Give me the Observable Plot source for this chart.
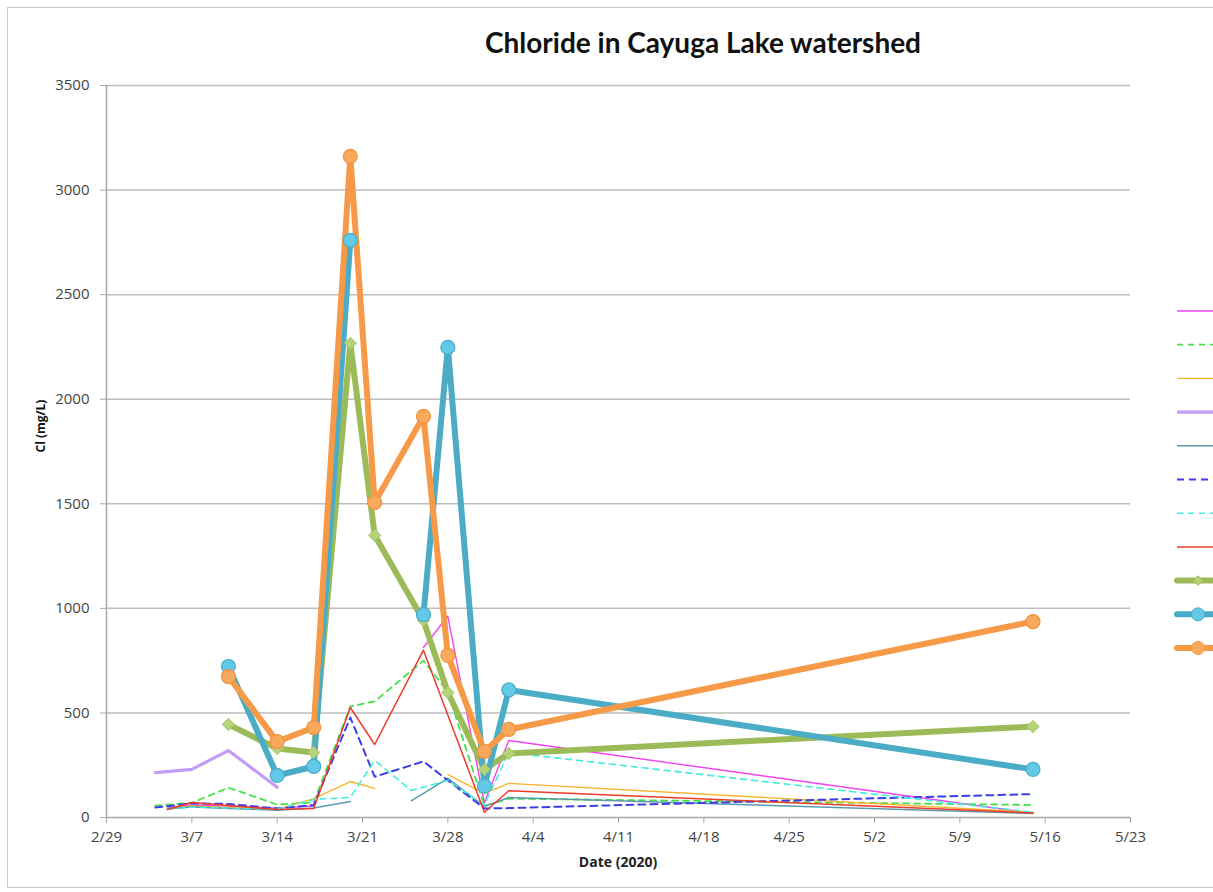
<!DOCTYPE html>
<html>
<head>
<meta charset="utf-8">
<script src="https://cdn.jsdelivr.net/npm/d3@7"></script>
<script src="https://cdn.jsdelivr.net/npm/@observablehq/plot@0.6"></script>
<style>
  html, body { margin: 0; padding: 0; background: #fff; }
  #wrap { position: relative; width: 1213px; height: 892px; overflow: hidden; background: #fff; }
  #frame { position: absolute; left: 7px; top: 7px; width: 1230px; height: 881px; border: 1.5px solid #c9c9c9; box-sizing: border-box; }
  #title { position: absolute; left: 0; top: 25px; width: 1406px; text-align: center; font: bold 28px Lato, "Open Sans", sans-serif; color: #111; }
  #ylab { position: absolute; left: 40px; top: 426px; transform: translate(-50%, -50%) rotate(-90deg); font: bold 12px "Open Sans", sans-serif; color: #111; white-space: nowrap; }
  #xlab { position: absolute; left: 618px; top: 852px; transform: translateX(-50%); font: bold 14px "Open Sans", sans-serif; color: #222; white-space: nowrap; }
  #chart { position: absolute; left: 0; top: 0; }
  #legend { position: absolute; left: 0; top: 0; }
</style>
</head>
<body>
<div id="wrap">
  <div id="frame"></div>
  <div id="chart"></div>
  <div id="title">Chloride in Cayuga Lake watershed</div>
  <div id="ylab">Cl (mg/L)</div>
  <div id="xlab">Date (2020)</div>
  <svg id="legend" width="1213" height="892"></svg>
</div>
<script>
// ---- Data; null = gap in the series ----
const xTickLabels = ["2/29","3/7","3/14","3/21","3/28","4/4","4/11","4/18","4/25","5/2","5/9","5/16","5/23"];
const yTicks = [0, 500, 1000, 1500, 2000, 2500, 3000, 3500];

const magentaDates = ["2020-03-05","2020-03-07","2020-03-10","2020-03-14","2020-03-17","2020-03-20","2020-03-26","2020-03-28","2020-03-31","2020-04-02","2020-05-15"];
const magentaVals  = [45, 60, 55, 45, 55, null, 813, 962, 70, 368, 20];

const greenDashDates = ["2020-03-04","2020-03-07","2020-03-10","2020-03-14","2020-03-17","2020-03-20","2020-03-22","2020-03-26","2020-03-28","2020-03-31","2020-04-02","2020-05-15"];
const greenDashVals  = [57, 70, 143, 62, 72, 531, 555, 750, 600, 55, 90, 60];

const orangeThinDates = ["2020-03-05","2020-03-07","2020-03-14","2020-03-17","2020-03-20","2020-03-22","2020-03-25","2020-03-28","2020-03-31","2020-04-02","2020-05-15"];
const orangeThinVals  = [40, 55, 40, 90, 172, 139, null, 205, 115, 163, 25];

const lavenderDates = ["2020-03-04","2020-03-07","2020-03-10","2020-03-14"];
const lavenderVals  = [215, 230, 320, 145];

const tealDates = ["2020-03-05","2020-03-07","2020-03-14","2020-03-17","2020-03-20","2020-03-22","2020-03-25","2020-03-28","2020-03-31","2020-04-02","2020-05-15"];
const tealVals  = [43, 50, 35, 45, 77, null, 80, 187, 53, 96, 19];

const blueDashDates = ["2020-03-04","2020-03-07","2020-03-10","2020-03-14","2020-03-17","2020-03-20","2020-03-22","2020-03-26","2020-03-31","2020-04-02","2020-05-15"];
const blueDashVals  = [48, 67, 65, 43, 60, 478, 195, 268, 43, 45, 112];

const cyanDashDates = ["2020-03-05","2020-03-07","2020-03-14","2020-03-17","2020-03-20","2020-03-22","2020-03-25","2020-03-28","2020-03-31","2020-04-02","2020-05-15"];
const cyanDashVals  = [40, 50, 40, 86, 96, 273, 129, 177, 60, 311, 25];

const redDates = ["2020-03-05","2020-03-07","2020-03-14","2020-03-17","2020-03-20","2020-03-22","2020-03-26","2020-03-31","2020-04-02","2020-05-15"];
const redVals  = [38, 72, 38, 43, 526, 349, 800, 25, 128, 22];

const greenDates = ["2020-03-10","2020-03-14","2020-03-17","2020-03-20","2020-03-22","2020-03-26","2020-03-28","2020-03-31","2020-04-02","2020-05-15"];
const greenVals  = [445, 330, 311, 2267, 1349, 942, 598, 230, 306, 435];

const blueDates = ["2020-03-10","2020-03-14","2020-03-17","2020-03-20","2020-03-22","2020-03-26","2020-03-28","2020-03-31","2020-04-02","2020-05-15"];
const blueVals  = [722, 201, 244, 2759, null, 970, 2248, 150, 610, 230];

const orangeDates = ["2020-03-10","2020-03-14","2020-03-17","2020-03-20","2020-03-22","2020-03-26","2020-03-28","2020-03-31","2020-04-02","2020-05-15"];
const orangeVals  = [674, 363, 430, 3161, 1506, 1918, 775, 316, 421, 937];

// ---- Build tables ----
const parse = d3.utcParse("%Y-%m-%d");
function rows(dates, vals) { return dates.map((d, i) => ({date: parse(d), v: vals[i]})); }

const thinStyles = [
  {stroke: "#f044f0", w: 1.4, dash: null},
  {stroke: "#48e04a", w: 1.8, dash: "6,5"},
  {stroke: "#fbb42a", w: 1.4, dash: null},
  {stroke: "#c29cf7", w: 3.2, dash: null},
  {stroke: "#5b9aae", w: 1.5, dash: null},
  {stroke: "#3d3de8", w: 2, dash: "7,5"},
  {stroke: "#44ece0", w: 1.6, dash: "6,5"},
  {stroke: "#ee3b2b", w: 1.5, dash: null}
];
const thinData = [
  rows(magentaDates, magentaVals),
  rows(greenDashDates, greenDashVals),
  rows(orangeThinDates, orangeThinVals),
  rows(lavenderDates, lavenderVals),
  rows(tealDates, tealVals),
  rows(blueDashDates, blueDashVals),
  rows(cyanDashDates, cyanDashVals),
  rows(redDates, redVals)
];
const green = rows(greenDates, greenVals);
const blue = rows(blueDates, blueVals);
const orange = rows(orangeDates, orangeVals);

const x0 = parse("2020-02-29"), x1 = parse("2020-05-23");
const xTicks = d3.range(0, 85, 7).map(k => d3.utcDay.offset(x0, k));

const marks = [
  Plot.ruleY(yTicks.filter(d => d > 0), {stroke: "#bdbdbd", strokeWidth: 1.5}),
  Plot.axisY({ticks: yTicks, tickFormat: d => String(d), tickSize: 6, tickPadding: 11, stroke: "#a8a8a8", fontSize: 15, fill: "#444", label: null}),
  Plot.axisX({ticks: xTicks, tickFormat: (d, i) => xTickLabels[i], tickSize: 6, tickPadding: 8, stroke: "#a8a8a8", fontSize: 15, fill: "#444", label: null}),
  Plot.ruleX([x0], {stroke: "#a8a8a8", strokeWidth: 1.5}),
  Plot.ruleY([0], {stroke: "#a8a8a8", strokeWidth: 1.5})
];
thinData.forEach((data, i) => {
  const s = thinStyles[i];
  marks.push(Plot.line(data, {x: "date", y: "v", stroke: s.stroke, strokeWidth: s.w, strokeDasharray: s.dash}));
});
marks.push(
  Plot.line(green, {x: "date", y: "v", stroke: "#9bbb59", strokeWidth: 6, strokeLinejoin: "round"}),
  Plot.line(blue, {x: "date", y: "v", stroke: "#4aacc6", strokeWidth: 6, strokeLinejoin: "round"}),
  Plot.line(orange, {x: "date", y: "v", stroke: "#f79a48", strokeWidth: 6, strokeLinejoin: "round"}),
  Plot.dot(green, {x: "date", y: "v", symbol: "diamond2", r: 5.5, fill: "#b7d37a", stroke: "#a3c263", strokeWidth: 1}),
  Plot.dot(blue, {x: "date", y: "v", r: 7, fill: "#62c9e8", stroke: "#4aacc6", strokeWidth: 1.2}),
  Plot.dot(orange, {x: "date", y: "v", r: 7, fill: "#f9a95c", stroke: "#f3913c", strokeWidth: 1.2})
);

const chart = Plot.plot({
  width: 1213,
  height: 892,
  marginLeft: 106,
  marginRight: 83,
  marginTop: 85,
  marginBottom: 75,
  style: {background: "transparent", fontFamily: "'Open Sans', sans-serif"},
  x: {type: "utc", domain: [x0, x1]},
  y: {domain: [0, 3500]},
  marks
});
document.getElementById("chart").appendChild(chart);

// ---- Legend (labels cut off at the right edge, as in the reference) ----
const legendItems = thinStyles.concat([
  {stroke: "#9bbb59", w: 6, dash: null, marker: "diamond", fill: "#b7d37a"},
  {stroke: "#4aacc6", w: 6, dash: null, marker: "circle", fill: "#62c9e8"},
  {stroke: "#f79a48", w: 6, dash: null, marker: "circle", fill: "#f9a95c"}
]);
const lg = d3.select("#legend");
const ly = d3.scaleLinear().domain([0, 10]).range([311, 648]);
legendItems.forEach((it, i) => {
  const y = ly(i);
  lg.append("line").attr("x1", 1177).attr("x2", 1220).attr("y1", y).attr("y2", y)
    .attr("stroke", it.stroke).attr("stroke-width", it.w).attr("stroke-dasharray", it.dash)
    .attr("stroke-linecap", it.w > 4 ? "round" : "butt");
  if (it.marker === "circle") lg.append("circle").attr("cx", 1198).attr("cy", y).attr("r", 6.5).attr("fill", it.fill).attr("stroke", it.stroke);
  if (it.marker === "diamond") lg.append("path").attr("d", d3.symbol(d3.symbolDiamond2, 60)()).attr("transform", `translate(1198,${y})`).attr("fill", it.fill).attr("stroke", it.stroke);
});
</script>
</body>
</html>
